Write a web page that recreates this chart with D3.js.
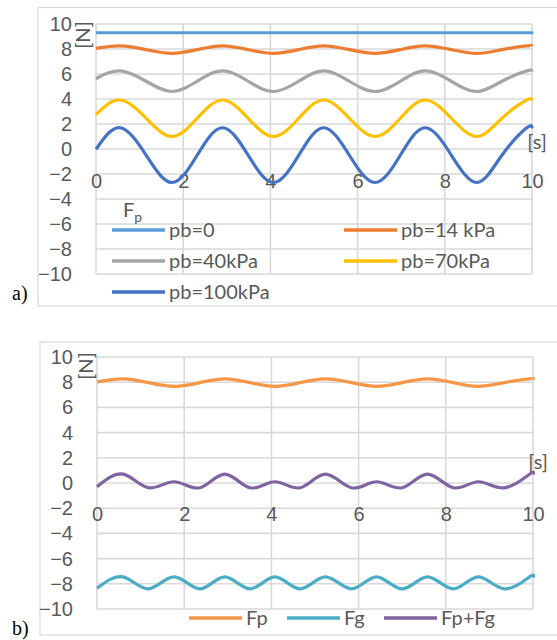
<!DOCTYPE html>
<html>
<head>
<meta charset="utf-8">
<script src="https://cdn.jsdelivr.net/npm/d3@7"></script>
<style>
  body { margin:0; background:#fff; }
  svg { display:block; font-family: Lato, "Liberation Sans", sans-serif; }
  .tick text { fill:#595959; font-size:20px; }
  .lbl { fill:#595959; font-size:20px; }
  .panel { font-family:"Liberation Serif", serif; font-size:20px; fill:#000; }
</style>
</head>
<body>
<div id="chart"></div>
<script>
// ---- data ----
const xTicks = [0, 2, 4, 6, 8, 10];
const yTicks = [-10, -8, -6, -4, -2, 0, 2, 4, 6, 8, 10];

// panel a) : Fp for several pb
const tA    = [0, 0.55, 1.15, 1.74, 2.32, 2.9, 3.49, 4.07, 4.65, 5.22, 5.81, 6.4, 6.98, 7.55, 8.15, 8.74, 9.31, 9.88, 10];
const pb0   = [9.3, 9.3, 9.3, 9.3, 9.3, 9.3, 9.3, 9.3, 9.3, 9.3, 9.3, 9.3, 9.3, 9.3, 9.3, 9.3, 9.3, 9.3, 9.3];
const pb14  = [8.05, 8.25, 7.95, 7.65, 7.95, 8.25, 7.95, 7.65, 7.95, 8.25, 7.95, 7.65, 7.95, 8.25, 7.95, 7.65, 7.95, 8.25, 8.23];
const pb40  = [5.62, 6.25, 5.42, 4.6, 5.42, 6.25, 5.42, 4.6, 5.42, 6.25, 5.42, 4.6, 5.42, 6.25, 5.42, 4.6, 5.42, 6.25, 6.21];
const pb70  = [2.75, 3.92, 2.46, 1.0, 2.46, 3.92, 2.46, 1.0, 2.46, 3.92, 2.46, 1.0, 2.46, 3.92, 2.46, 1.0, 2.46, 3.92, 3.88];
const pb100 = [-0.03, 1.7, -0.5, -2.68, -0.5, 1.7, -0.5, -2.68, -0.5, 1.7, -0.5, -2.68, -0.5, 1.7, -0.5, -2.68, -0.5, 1.7, 1.65];
const namesA  = ["pb=0", "pb=14 kPa", "pb=40kPa", "pb=70kPa", "pb=100kPa"];
const colorsA = ["#5b9bd5", "#ed7d31", "#a5a5a5", "#ffc000", "#4472c4"];

// panel b) : Fp, Fg and their sum
const tB   = [0, 0.6, 1.18, 1.77, 2.36, 2.93, 3.51, 4.08, 4.66, 5.24, 5.84, 6.41, 7.0, 7.58, 8.17, 8.74, 9.34, 9.92, 10];
const fp   = [8.02, 8.27, 7.97, 7.67, 7.97, 8.27, 7.97, 7.67, 7.97, 8.27, 7.97, 7.67, 7.97, 8.27, 7.97, 7.67, 7.97, 8.27, 8.26];
const fg   = [-8.35, -7.45, -8.4, -7.45, -8.4, -7.45, -8.4, -7.45, -8.4, -7.45, -8.4, -7.45, -8.4, -7.45, -8.4, -7.45, -8.4, -7.45, -7.5];
const fpfg = [-0.3, 0.7, -0.38, 0.1, -0.38, 0.7, -0.38, 0.1, -0.38, 0.7, -0.38, 0.1, -0.38, 0.7, -0.38, 0.1, -0.38, 0.7, 0.68];
const namesB  = ["Fp", "Fg", "Fp+Fg"];
const colorsB = ["#f79646", "#4bacc6", "#8064a2"];

var svg = d3.select("#chart").append("svg").attr("width", 557).attr("height", 640);

function drawPanel(cfg) {
	var g = svg.append("g");

	// outer frame
	g.append("rect")
		.attr("x", cfg.frame[0]).attr("y", cfg.frame[1])
		.attr("width", 600).attr("height", cfg.frame[2] - cfg.frame[1])
		.attr("fill", "none").attr("stroke", "#d9d9d9").attr("stroke-width", 1.2);

	var x = d3.scaleLinear().domain([0, 10]).range([cfg.x0, cfg.x1]);
	var y = d3.scaleLinear().domain([-10, 10]).range([cfg.yBot, cfg.yTop]);

	// grid
	g.append("g").selectAll("line").data(yTicks).enter().append("line")
		.attr("x1", x(0)).attr("x2", x(10))
		.attr("y1", d => y(d)).attr("y2", d => y(d))
		.attr("stroke", "#d9d9d9").attr("stroke-width", 1.6);
	g.append("g").selectAll("line").data(xTicks).enter().append("line")
		.attr("y1", y(-10)).attr("y2", y(10))
		.attr("x1", d => x(d)).attr("x2", d => x(d))
		.attr("stroke", "#d9d9d9").attr("stroke-width", 1.6);

	// axes labels
	var yAxis = d3.axisLeft(y).tickValues(yTicks).tickSize(0).tickPadding(cfg.x0 - cfg.yLabRight);
	g.append("g").attr("transform", "translate(" + x(0) + ",0)").call(yAxis)
		.call(s => s.select(".domain").remove());
	var xAxis = d3.axisBottom(x).tickValues(xTicks).tickSize(0).tickPadding(cfg.xLabPad);
	g.append("g").attr("transform", "translate(0," + y(0) + ")").call(xAxis)
		.call(s => s.select(".domain").remove());
	g.selectAll(".tick text").attr("font-family", null).attr("font-size", null);

	// units
	g.append("text").attr("class", "lbl")
		.attr("transform", "translate(" + cfg.nPos[0] + "," + cfg.nPos[1] + ") rotate(-90)")
		.attr("text-anchor", "middle").attr("dy", "0.35em").text("[N]");
	g.append("text").attr("class", "lbl")
		.attr("x", cfg.sPos[0]).attr("y", cfg.sPos[1])
		.attr("text-anchor", "middle").attr("dy", "0.35em").text("[s]");

	// series
	var line = d3.line().x(d => x(d[0])).y(d => y(d[1])).curve(d3.curveNatural);
	cfg.series.forEach(function (vals, i) {
		g.append("path")
			.datum(cfg.t.map((t, j) => [t, vals[j]]))
			.attr("d", line)
			.attr("fill", "none")
			.attr("stroke", cfg.colors[i])
			.attr("stroke-width", 3.2)
			.attr("stroke-linejoin", "round");
	});

	// legend
	cfg.names.forEach(function (name, i) {
		var p = cfg.legend[i];
		g.append("line")
			.attr("x1", p[0]).attr("x2", p[0] + 53)
			.attr("y1", p[1]).attr("y2", p[1])
			.attr("stroke", cfg.colors[i]).attr("stroke-width", 3.5);
		g.append("text").attr("class", "lbl")
			.attr("x", p[0] + 57).attr("y", p[1]).attr("dy", "0.35em")
			.text(name);
	});

	// panel letter
	g.append("text").attr("class", "panel")
		.attr("x", 12).attr("y", cfg.letterY).attr("dy", "0.35em")
		.text(cfg.letter);
	return g;
}

var gA = drawPanel({
	frame: [38, 7.5, 306],
	x0: 96, x1: 532, yTop: 24, yBot: 274,
	yLabRight: 72, xLabPad: 25,
	nPos: [83, 35], sPos: [537, 142],
	t: tA, series: [pb0, pb14, pb40, pb70, pb100],
	names: namesA, colors: colorsA,
	legend: [[112, 230], [344, 230], [112, 261], [344, 261], [112, 292]],
	letter: "a)", letterY: 293
});
// legend title F with subscript p
var ft = gA.append("text").attr("class", "lbl").attr("x", 123).attr("y", 217);
ft.append("tspan").text("F");
ft.append("tspan").attr("font-size", "14px").attr("dy", "5").text("p");

drawPanel({
	frame: [40, 342, 635],
	x0: 97, x1: 533, yTop: 357, yBot: 609,
	yLabRight: 73, xLabPad: 24,
	nPos: [86, 366], sPos: [538, 462],
	t: tB, series: [fp, fg, fpfg],
	names: namesB, colors: colorsB,
	legend: [[189, 618], [287, 618], [384, 618]],
	letter: "b)", letterY: 628
});
</script>
</body>
</html>
